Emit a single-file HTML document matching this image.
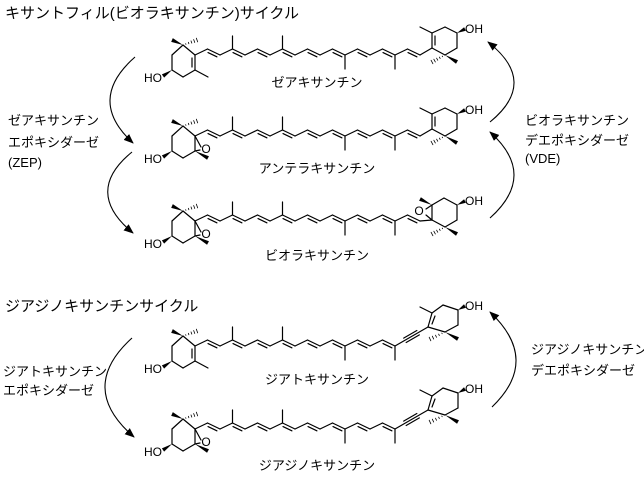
<!DOCTYPE html>
<html><head><meta charset="utf-8">
<style>
html,body{margin:0;padding:0;background:#fff;}
svg{display:block;}
text{font-family:"Liberation Sans","Noto Sans CJK JP",sans-serif;fill:#000;}
</style></head>
<body>
<svg id="s" width="644" height="478" viewBox="0 0 644 478" xmlns="http://www.w3.org/2000/svg">
<defs>
<marker id="ah" markerWidth="10" markerHeight="8" refX="9" refY="4" orient="auto" markerUnits="userSpaceOnUse">
<path d="M0,0 L10,4 L0,8 z" fill="#000"/>
</marker>
</defs>
<g font-size="15">
<text x="5" y="18">キサントフィル(ビオラキサンチン)サイクル</text>
<text x="5" y="311">ジアジノキサンチンサイクル</text>
</g>
<g font-size="13" text-anchor="middle">
<text x="317" y="87">ゼアキサンチン</text>
<text x="317" y="173">アンテラキサンチン</text>
<text x="317" y="260">ビオラキサンチン</text>
<text x="317" y="384">ジアトキサンチン</text>
<text x="317" y="470">ジアジノキサンチン</text>
</g>
<g font-size="13">
<text x="8" y="125">ゼアキサンチン</text>
<text x="8" y="147">エポキシダーゼ</text>
<text x="8" y="167">(ZEP)</text>
<text x="525" y="125">ビオラキサンチン</text>
<text x="525" y="145">デエポキシダーゼ</text>
<text x="525" y="163">(VDE)</text>
<text x="3" y="376">ジアトキサンチン</text>
<text x="3" y="395">エポキシダーゼ</text>
<text x="531" y="354">ジアジノキサンチン</text>
<text x="531" y="375">デエポキシダーゼ</text>
</g>
<g fill="none" stroke="#000" stroke-width="1.1" marker-end="url(#ah)">
<path d="M135,57 Q86,100 133,143"/>
<path d="M132,152 Q83,192 133,233"/>
<path d="M490,122 Q539,82 488,42"/>
<path d="M490,218 Q538,175 490,132"/>
<path d="M132,338 Q77,388 134,437"/>
<path d="M492,407 Q541,360 490,312"/>
</g>
<g id="mols" stroke="#000" stroke-width="1.2" fill="none" stroke-linecap="round"></g>
</svg>
<script>
(function(){
var out=[];
function L(a,b,c,d){out.push('<line x1="'+a+'" y1="'+b+'" x2="'+c+'" y2="'+d+'"/>');}
function W(a,b,c,d){var dx=c-a,dy=d-b,l=Math.hypot(dx,dy),nx=-dy/l*2,ny=dx/l*2;
 out.push('<polygon fill="#000" stroke="none" points="'+a+','+b+' '+(c+nx)+','+(d+ny)+' '+(c-nx)+','+(d-ny)+'"/>');}
function H(a,b,c,d){var dx=c-a,dy=d-b,l=Math.hypot(dx,dy),nx=-dy/l,ny=dx/l;
 for(var t=0.2;t<=1.01;t+=0.2){var x=a+dx*t,y=b+dy*t,w=2*t;out.push('<line stroke-width="0.8" x1="'+(x+nx*w)+'" y1="'+(y+ny*w)+'" x2="'+(x-nx*w)+'" y2="'+(y-ny*w)+'"/>');}}
function T(x,y,s,anchor){out.push('<text stroke="none" font-size="12" x="'+x+'" y="'+y+'"'+(anchor?' text-anchor="'+anchor+'"':'')+'>'+s+'</text>');}
function D(a,b,c,d){var dx=c-a,dy=d-b,l=Math.hypot(dx,dy),nx=-dy/l*3,ny=dx/l*3;if(ny<0){nx=-nx;ny=-ny;}
 var ux=dx/l*2,uy=dy/l*2;L(a+nx+ux,b+ny+uy,c+nx-ux,d+ny-uy);}
function mol(oy,leftEp,right){
 var p=function(x,y){return [x,y+oy];};
 var C1=p(183,45),C2=p(172,55),C3=p(172,70),C4=p(183,77),C5=p(195,70),C6=p(195,55);
 L(C1[0],C1[1],C2[0],C2[1]);L(C2[0],C2[1],C3[0],C3[1]);L(C3[0],C3[1],C4[0],C4[1]);
 L(C4[0],C4[1],C5[0],C5[1]);L(C5[0],C5[1],C6[0],C6[1]);L(C6[0],C6[1],C1[0],C1[1]);
 W(C1[0],C1[1],172,40+oy);H(C1[0],C1[1],197,40+oy);
 W(C3[0],C3[1],163,76+oy);T(162,82+oy,'HO','end');
 if(leftEp){W(C5[0],C5[1],208,77+oy);L(C6[0],C6[1],201,66+oy);L(C5[0],C5[1],200,69+oy);T(206,72+oy,'O','middle');}
 else{L(C5[0],C5[1],208,77+oy);L(192,58+oy,192,67+oy);}
 var pts=[C6];
 for(var i=1;i<=18;i++)pts.push([195+12.5*i,(i%2?49:55)+oy]);
 var last=right=='diato'?16:18;
 for(i=0;i<last;i++)L(pts[i][0],pts[i][1],pts[i+1][0],pts[i+1][1]);
 for(i=1;i<last;i+=2)D(pts[i][0],pts[i][1],pts[i+1][0],pts[i+1][1]);
 [3,7].forEach(function(k){L(pts[k][0],pts[k][1],pts[k][0],36+oy);});
 [12,16].forEach(function(k){L(pts[k][0],pts[k][1],pts[k][0],69+oy);});
 var R;
 if(right=='zea'){R=[[432,48],[432,33],[445,27],[457,33],[457,48],[445,55]];}
 else if(right=='vio'){R=[[432,54],[432,39],[444,32],[457,39],[457,54],[445,61]];}
 else{R=[[428,36],[432,22],[443,14],[458,19],[458,34],[445,41]];}
 R=R.map(function(q){return [q[0],q[1]+oy];});
 for(i=0;i<6;i++)L(R[i][0],R[i][1],R[(i+1)%6][0],R[(i+1)%6][1]);
 var e=pts[last];
 if(right=='diato'){
  var a=e,b=R[0],dx=b[0]-a[0],dy=b[1]-a[1],l=Math.hypot(dx,dy),nx=-dy/l*2.5,ny=dx/l*2.5;
  L(a[0],a[1],b[0],b[1]);
  var s1=[a[0]+dx*0.3,a[1]+dy*0.3],s2=[a[0]+dx*0.7,a[1]+dy*0.7];
  L(s1[0]+nx,s1[1]+ny,s2[0]+nx,s2[1]+ny);L(s1[0]-nx,s1[1]-ny,s2[0]-nx,s2[1]-ny);
 } else L(e[0],e[1],R[0][0],R[0][1]);
 var mh=R[5][1]+7;
 W(R[5][0],R[5][1],R[4][0],mh);H(R[5][0],R[5][1],R[0][0]-(right=='diato'?-2:0),mh);
 W(R[3][0],R[3][1],465,R[3][1]-4);T(465,R[3][1],'OH');
 if(right=='vio'){W(R[1][0],R[1][1],420,R[1][1]-6);L(R[1][0],R[1][1],426,R[1][1]+4);L(R[0][0],R[0][1],426,R[0][1]-5);T(419,R[1][1]+10,'O','middle');}
 else{L(R[1][0],R[1][1],420,R[1][1]-6);var dx2=R[0][0]-R[1][0];L(R[1][0]+3,R[1][1]+3,R[0][0]+3-(dx2<0?-1:0),R[0][1]-3);}
}
mol(0,false,'zea');
mol(81,true,'zea');
mol(166,true,'vio');
mol(291,false,'diato');
mol(374,true,'diato');
document.getElementById('mols').innerHTML=out.join('');
})();
</script>
</body></html>
